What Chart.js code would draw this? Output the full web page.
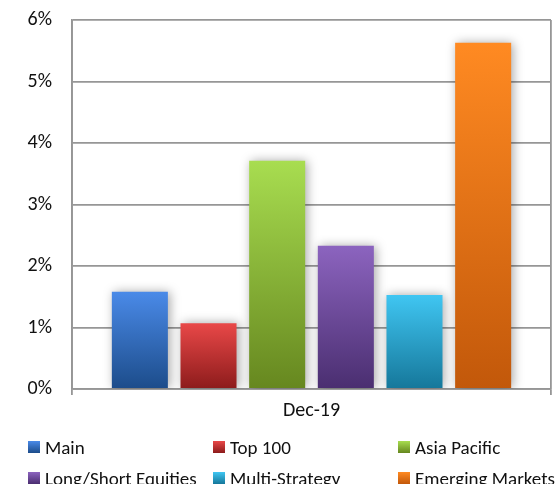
<!DOCTYPE html>
<html>
<head>
<meta charset="utf-8">
<script src="https://cdn.jsdelivr.net/npm/chart.js@4.4.1/dist/chart.umd.min.js"></script>
<style>
  html, body { margin: 0; padding: 0; background: #fff; }
  #wrap { position: relative; width: 558px; height: 484px; overflow: hidden; }
  #legend { position: absolute; left: 0; top: 0; width: 558px; height: 484px; pointer-events: none;
            font-family: Carlito, Lato, "Open Sans", sans-serif; font-size: 19px; color: #111; }
  .item { position: absolute; display: flex; align-items: center; white-space: nowrap; }
  .box { width: 12px; height: 12px; margin-right: 5px; }
</style>
</head>
<body>
<div id="wrap">
  <canvas id="chart" width="558" height="484"></canvas>
  <div id="legend"></div>
</div>
<script>
// Returns by strategy, December 2019 (percent)
const categories = ['Dec-19'];
const seriesNames = ['Main', 'Top 100', 'Asia Pacific', 'Long/Short Equities', 'Multi-Strategy', 'Emerging Markets'];
const seriesValues = [1.58, 1.07, 3.71, 2.33, 1.53, 5.63];
const yTicks = [0, 1, 2, 3, 4, 5, 6];

// Light (top) and dark (bottom) shade of each bar's gradient
const topColors = ['#4a8ae8', '#e94848', '#a8dd50', '#8c64bf', '#40c6f2', '#ff8a22'];
const bottomColors = ['#1c4c8a', '#8c1b1b', '#66871f', '#4a2e70', '#15779a', '#c2580a'];

const FONT = 'Carlito, Lato, "Open Sans", sans-serif';

function barGradient(i) {
  return function (ctx) {
    const chart = ctx.chart;
    const y = chart.scales.y;
    if (!y || !chart.chartArea) return topColors[i];
    const top = y.getPixelForValue(seriesValues[i]);
    const bottom = y.getPixelForValue(0);
    const g = chart.ctx.createLinearGradient(0, top, 0, bottom);
    g.addColorStop(0, topColors[i]);
    g.addColorStop(1, bottomColors[i]);
    return g;
  };
}

// Soft drop shadow behind the bars
const barShadow = {
  id: 'barShadow',
  beforeDatasetsDraw(chart) {
    const c = chart.ctx;
    c.save();
    c.shadowColor = 'rgba(0,0,0,0.35)';
    c.shadowBlur = 10;
    c.shadowOffsetX = 2;
    c.shadowOffsetY = 0;
  },
  afterDatasetsDraw(chart) {
    chart.ctx.restore();
  }
};

const datasets = seriesNames.map((name, i) => ({
  label: name,
  data: [seriesValues[i]],
  backgroundColor: barGradient(i),
  borderWidth: 0,
  categoryPercentage: 0.86,
  barPercentage: 0.816
}));

const GRID = '#969696';

const chart = new Chart(document.getElementById('chart'), {
  type: 'bar',
  data: { labels: categories, datasets },
  plugins: [barShadow],
  options: {
    responsive: false,
    animation: false,
    layout: { padding: { top: 20, right: 7, bottom: 55, left: 0 } },
    plugins: { legend: { display: false }, tooltip: { enabled: false } },
    scales: {
      x: {
        grid: { offset: true, color: GRID, lineWidth: 1.8, tickLength: 6, drawTicks: true },
        border: { display: true, color: GRID, width: 1.8 },
        ticks: { color: '#111', font: { family: FONT, size: 20 }, padding: 4 },
        afterFit(s) { s.height = 40; s.paddingLeft = 0; s.paddingRight = 0; }
      },
      y: {
        min: yTicks[0],
        max: yTicks[yTicks.length - 1],
        afterBuildTicks(s) { s.ticks = yTicks.map(v => ({ value: v })); },
        grid: { color: GRID, lineWidth: 1.8, drawTicks: false },
        border: { display: true, color: GRID, width: 1.8 },
        ticks: { color: '#111', font: { family: FONT, size: 20 }, padding: 20,
                 callback: v => v + '%' },
        afterFit(s) { s.width = 72; s.paddingTop = 0; s.paddingBottom = 0; }
      }
    }
  }
});

// Three-column legend below the plot
const legendEl = document.getElementById('legend');
const colX = [28, 213, 398];
const rowY = [447, 478];
chart.data.datasets.forEach((ds, i) => {
  const item = document.createElement('div');
  item.className = 'item';
  item.style.left = colX[i % 3] + 'px';
  item.style.top = (rowY[Math.floor(i / 3)] - 12) + 'px';
  item.style.height = '24px';
  const box = document.createElement('span');
  box.className = 'box';
  box.style.background = 'linear-gradient(' + topColors[i] + ',' + bottomColors[i] + ')';
  const txt = document.createElement('span');
  txt.textContent = ds.label;
  item.appendChild(box);
  item.appendChild(txt);
  legendEl.appendChild(item);
});
</script>
</body>
</html>
